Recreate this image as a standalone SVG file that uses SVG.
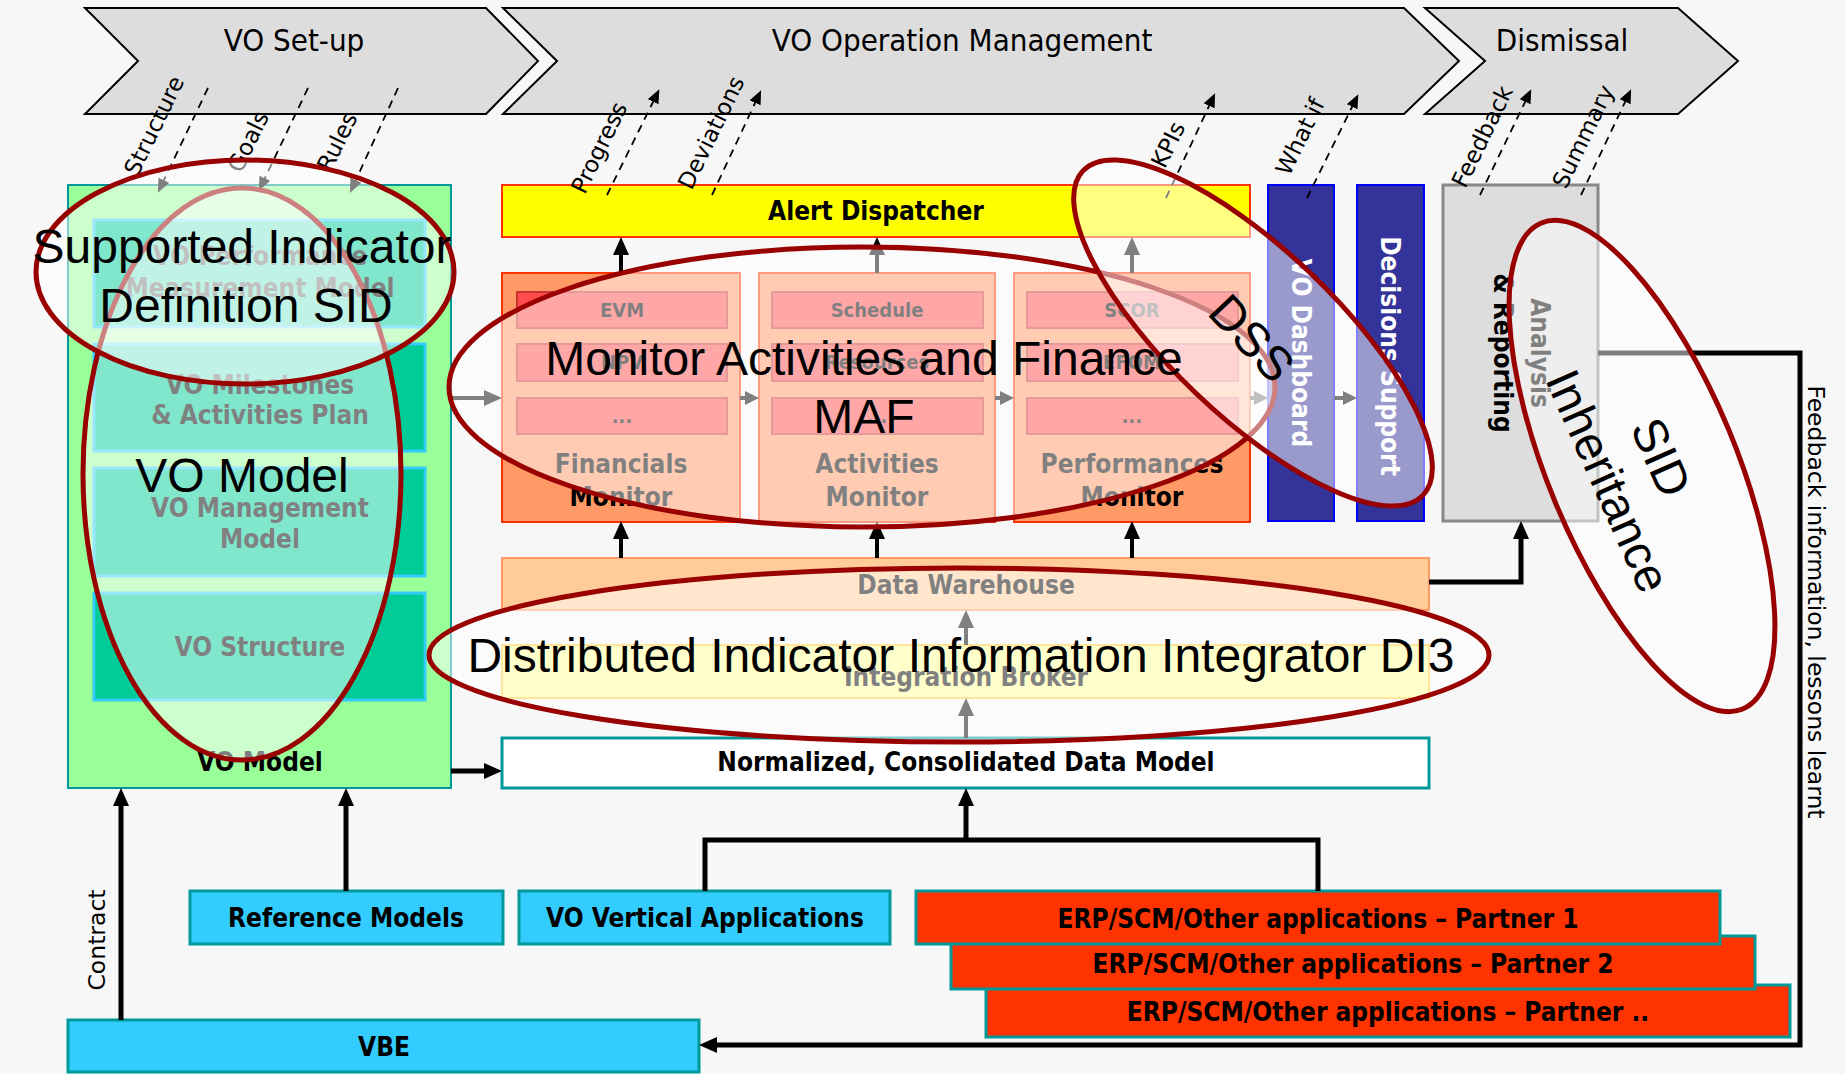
<svg xmlns="http://www.w3.org/2000/svg" width="1845" height="1074" viewBox="0 0 1845 1074">
  <defs>
    <style>
      .chev { fill: #dddddd; stroke: #000000; stroke-width: 2; }
      .ttl { font-family: "DejaVu Sans Condensed", "DejaVu Sans", sans-serif; font-stretch: condensed; font-size: 31px; fill: #000; text-anchor: middle; }
      .b { font-family: "DejaVu Sans Condensed", "DejaVu Sans", sans-serif; font-stretch: condensed; font-weight: bold; font-size: 26px; fill: #000; text-anchor: middle; }
      .sb { font-family: "DejaVu Sans Condensed", "DejaVu Sans", sans-serif; font-stretch: condensed; font-weight: bold; font-size: 20px; fill: #000; text-anchor: middle; }
      .w { fill: #ffffff; }
      .lbl { font-family: "DejaVu Sans", sans-serif; font-size: 23px; fill: #000; text-anchor: middle; }
      .lbl2 { font-family: "DejaVu Sans", sans-serif; font-size: 23.5px; fill: #000; text-anchor: middle; }
      .vm { fill: #99ff99; stroke: #009999; stroke-width: 2; }
      .inner { fill: #00cc99; stroke: #33ccff; stroke-width: 3; }
      .mon { fill: #ff9966; stroke: #ff3300; stroke-width: 2; }
      .sub { fill: #ff4d4d; stroke: #cc3333; stroke-width: 2; }
      .blue { fill: #333399; stroke: #0000ff; stroke-width: 2; }
      .cyan { fill: #33ccff; stroke: #009999; stroke-width: 3; }
      .erp { fill: #ff3300; stroke: #009999; stroke-width: 3; }
      .con { fill: none; stroke: #000; stroke-width: 5; }
      .con4 { fill: none; stroke: #000; stroke-width: 4; }
      .dash { fill: none; stroke: #000; stroke-width: 1.8; stroke-dasharray: 8 6; }
      .ov { fill: #ffffff; fill-opacity: 0.5; stroke: #990000; stroke-width: 5; }
      .ovt { font-family: "Liberation Sans", Arial, sans-serif; font-size: 48px; fill: #000; text-anchor: middle; }
    </style>
    <marker id="ah" viewBox="0 0 18 16" refX="2" refY="8" markerWidth="18" markerHeight="16" markerUnits="userSpaceOnUse" orient="auto">
      <path d="M0,0 L18,8 L0,16 z" fill="#000"/>
    </marker>
    <marker id="as" viewBox="0 0 14 14" refX="2" refY="7" markerWidth="14" markerHeight="14" markerUnits="userSpaceOnUse" orient="auto">
      <path d="M0,0 L14,7 L0,14 z" fill="#000"/>
    </marker>
    <marker id="dh" viewBox="0 0 14 12" refX="2" refY="6" markerWidth="14" markerHeight="12" markerUnits="userSpaceOnUse" orient="auto">
      <path d="M0,0 L14,6 L0,12 z" fill="#000"/>
    </marker>
  </defs>

  <rect x="0" y="0" width="1845" height="1074" fill="#f7f7f7"/>

  <!-- lifecycle phases -->
  <g id="phase-setup">
    <polygon class="chev" points="85,8 486,8 538,61 486,114 85,114 138,61"/>
    <text class="ttl" x="294" y="51">VO Set-up</text>
  </g>
  <g id="phase-operation">
    <polygon class="chev" points="503,8 1404,8 1459,61 1404,114 503,114 557,61"/>
    <text class="ttl" x="962" y="51">VO Operation Management</text>
  </g>
  <g id="phase-dismissal">
    <polygon class="chev" points="1425,8 1678,8 1738,61 1678,114 1425,114 1485,61"/>
    <text class="ttl" x="1562" y="51">Dismissal</text>
  </g>

  <!-- VO model stack -->
  <g id="vo-model">
    <rect class="vm" x="68" y="185" width="383" height="603"/>
    <rect class="inner" x="94" y="220" width="331" height="107"/>
    <text class="b" x="260" y="265">VO Performance</text>
    <text class="b" x="260" y="297">Measurement Model</text>
    <rect class="inner" x="94" y="344" width="331" height="107"/>
    <text class="b" x="260" y="394">VO Milestones</text>
    <text class="b" x="260" y="424">&amp; Activities Plan</text>
    <rect class="inner" x="94" y="468" width="331" height="108"/>
    <text class="b" x="260" y="517">VO Management</text>
    <text class="b" x="260" y="548">Model</text>
    <rect class="inner" x="94" y="593" width="331" height="107"/>
    <text class="b" x="260" y="656">VO Structure</text>
    <text class="b" x="260" y="771">VO Model</text>
  </g>

  <g id="alert-dispatcher">
    <rect x="502" y="185" width="748" height="52" fill="#ffff00" stroke="#ff3300" stroke-width="2"/>
    <text class="b" x="876" y="220">Alert Dispatcher</text>
  </g>

  <g id="financials-monitor">
    <rect class="mon" x="502" y="273" width="238" height="249"/>
    <rect class="sub" x="517" y="292" width="210" height="36"/>
    <text class="sb" x="622" y="317">EVM</text>
    <rect class="sub" x="517" y="344" width="210" height="37"/>
    <text class="sb" x="622" y="369">NPV</text>
    <rect class="sub" x="517" y="398" width="210" height="36"/>
    <text class="sb" x="622" y="423">...</text>
    <text class="b" x="621" y="473">Financials</text>
    <text class="b" x="621" y="506">Monitor</text>
  </g>
  <g id="activities-monitor">
    <rect class="mon" x="759" y="273" width="236" height="249"/>
    <rect class="sub" x="772" y="292" width="211" height="36"/>
    <text class="sb" x="877" y="317">Schedule</text>
    <rect class="sub" x="772" y="344" width="211" height="37"/>
    <text class="sb" x="877" y="369">Resources</text>
    <rect class="sub" x="772" y="398" width="211" height="36"/>
    <text class="sb" x="877" y="423">...</text>
    <text class="b" x="877" y="473">Activities</text>
    <text class="b" x="877" y="506">Monitor</text>
  </g>
  <g id="performances-monitor">
    <rect class="mon" x="1014" y="273" width="236" height="249"/>
    <rect class="sub" x="1027" y="292" width="211" height="36"/>
    <text class="sb" x="1132" y="317">SCOR</text>
    <rect class="sub" x="1027" y="344" width="211" height="37"/>
    <text class="sb" x="1132" y="369">EFQM</text>
    <rect class="sub" x="1027" y="398" width="211" height="36"/>
    <text class="sb" x="1132" y="423">...</text>
    <text class="b" x="1132" y="473">Performances</text>
    <text class="b" x="1132" y="506">Monitor</text>
  </g>

  <g id="vo-dashboard">
    <rect class="blue" x="1268" y="185" width="66" height="336"/>
    <text class="b w" transform="translate(1301,353) rotate(90)" x="0" y="9">VO Dashboard</text>
  </g>
  <g id="decisions-support">
    <rect class="blue" x="1357" y="185" width="67" height="336"/>
    <text class="b w" transform="translate(1390,356) rotate(90)" x="0" y="9">Decisions Support</text>
  </g>
  <g id="analysis-reporting">
    <rect x="1443" y="185" width="155" height="336" fill="#dddddd" stroke="#888888" stroke-width="3"/>
    <text class="b" transform="translate(1540,353) rotate(90)" x="0" y="9">Analysis</text>
    <text class="b" transform="translate(1503,353) rotate(90)" x="0" y="9">&amp; Reporting</text>
  </g>

  <g id="data-warehouse">
    <rect x="502" y="558" width="927" height="52" fill="#ffcc99" stroke="#ff9966" stroke-width="2"/>
    <text class="b" x="966" y="594">Data Warehouse</text>
  </g>
  <g id="integration-broker">
    <rect x="502" y="645" width="927" height="53" fill="#ffff99" stroke="#ffcc33" stroke-width="2"/>
    <text class="b" x="966" y="686">Integration Broker</text>
  </g>
  <g id="data-model">
    <rect x="502" y="738" width="927" height="50" fill="#ffffff" stroke="#009999" stroke-width="3"/>
    <text class="b" x="966" y="771">Normalized, Consolidated Data Model</text>
  </g>

  <g id="reference-models">
    <rect class="cyan" x="190" y="891" width="313" height="53"/>
    <text class="b" x="346" y="927">Reference Models</text>
  </g>
  <g id="vertical-applications">
    <rect class="cyan" x="519" y="891" width="371" height="53"/>
    <text class="b" x="705" y="927">VO Vertical Applications</text>
  </g>
  <g id="erp-partner-n">
    <rect class="erp" x="986" y="985" width="804" height="52"/>
    <text class="b" x="1388" y="1021">ERP/SCM/Other applications – Partner ..</text>
  </g>
  <g id="erp-partner-2">
    <rect class="erp" x="951" y="936" width="804" height="53"/>
    <text class="b" x="1353" y="973">ERP/SCM/Other applications – Partner 2</text>
  </g>
  <g id="erp-partner-1">
    <rect class="erp" x="916" y="891" width="804" height="53"/>
    <text class="b" x="1318" y="928">ERP/SCM/Other applications – Partner 1</text>
  </g>
  <g id="vbe">
    <rect class="cyan" x="68" y="1020" width="631" height="52"/>
    <text class="b" x="384" y="1056">VBE</text>
  </g>

  <!-- connectors -->
  <g id="connectors">
    <path class="con" d="M121,1020 V804" marker-end="url(#ah)"/>
    <path class="con" d="M346,891 V804" marker-end="url(#ah)"/>
    <path class="con" d="M451,771 H486" marker-end="url(#ah)"/>
    <path class="con" d="M705,891 V840 H1318 V891"/>
    <path class="con" d="M966,840 V804" marker-end="url(#ah)"/>
    <path class="con4" d="M966,738 V714" marker-end="url(#ah)"/>
    <path class="con4" d="M966,645 V626" marker-end="url(#ah)"/>
    <path class="con4" d="M621,558 V537" marker-end="url(#ah)"/>
    <path class="con4" d="M877,558 V537" marker-end="url(#ah)"/>
    <path class="con4" d="M1132,558 V537" marker-end="url(#ah)"/>
    <path class="con4" d="M621,273 V253" marker-end="url(#ah)"/>
    <path class="con4" d="M877,273 V253" marker-end="url(#ah)"/>
    <path class="con4" d="M1132,273 V253" marker-end="url(#ah)"/>
    <path class="con4" d="M451,398 H486" marker-end="url(#ah)"/>
    <path class="con4" d="M740,398 H747" marker-end="url(#as)"/>
    <path class="con4" d="M995,398 H1002" marker-end="url(#as)"/>
    <path class="con4" d="M1250,398 H1256" marker-end="url(#as)"/>
    <path class="con4" d="M1334,398 H1345" marker-end="url(#as)"/>
    <path class="con" d="M1429,582 H1521 V537" marker-end="url(#ah)"/>
    <path class="con" d="M1598,353 H1800 V1045 H715" marker-end="url(#ah)"/>
    <text class="lbl2" transform="translate(97,940) rotate(-90)" x="0" y="8">Contract</text>
    <text class="lbl2" transform="translate(1816,602) rotate(90)" x="0" y="8">Feedback information, lessons learnt</text>
  </g>

  <!-- information flows to and from the phases -->
  <g id="flows">
    <path class="dash" d="M208,88 L163,182" marker-end="url(#dh)"/>
    <path class="dash" d="M308,88 L264,180" marker-end="url(#dh)"/>
    <path class="dash" d="M398,88 L355,182" marker-end="url(#dh)"/>
    <path class="dash" d="M607,195 L654,100" marker-end="url(#dh)"/>
    <path class="dash" d="M712,195 L756,101" marker-end="url(#dh)"/>
    <path class="dash" d="M1166,198 L1210,104" marker-end="url(#dh)"/>
    <path class="dash" d="M1307,198 L1353,105" marker-end="url(#dh)"/>
    <path class="dash" d="M1480,195 L1526,100" marker-end="url(#dh)"/>
    <path class="dash" d="M1581,195 L1626,100" marker-end="url(#dh)"/>
    <text class="lbl" transform="translate(155,126) rotate(-64)" y="7">Structure</text>
    <text class="lbl" transform="translate(249,142) rotate(-64)" y="7">Goals</text>
    <text class="lbl" transform="translate(338,142) rotate(-64)" y="7">Rules</text>
    <text class="lbl" transform="translate(600,148) rotate(-64)" y="7">Progress</text>
    <text class="lbl" transform="translate(712,133) rotate(-64)" y="7">Deviations</text>
    <text class="lbl" transform="translate(1169,145) rotate(-64)" y="7">KPIs</text>
    <text class="lbl" transform="translate(1301,137) rotate(-64)" y="7">What if</text>
    <text class="lbl" transform="translate(1483,137) rotate(-64)" y="7">Feedback</text>
    <text class="lbl" transform="translate(1584,137) rotate(-64)" y="7">Summary</text>
  </g>

  <!-- highlighted subsystems -->
  <g id="highlights">
    <ellipse class="ov" cx="242" cy="474" rx="159" ry="286"/>
    <ellipse class="ov" cx="245" cy="272" rx="209" ry="112"/>
    <ellipse class="ov" cx="862" cy="387" rx="413" ry="140"/>
    <ellipse class="ov" transform="translate(1253,333) rotate(43.7)" cx="0" cy="0" rx="235" ry="83"/>
    <ellipse class="ov" cx="959" cy="655" rx="530" ry="87"/>
    <ellipse class="ov" transform="translate(1642,466) rotate(67.5)" cx="0" cy="0" rx="263" ry="94"/>
  </g>
  <g id="highlight-labels">
    <text class="ovt" x="242" y="263">Supported Indicator</text>
    <text class="ovt" x="246" y="322">Definition SID</text>
    <text class="ovt" x="242" y="492">VO Model</text>
    <text class="ovt" x="864" y="375">Monitor Activities and Finance</text>
    <text class="ovt" x="864" y="433">MAF</text>
    <text class="ovt" transform="translate(1252,338) rotate(47)" x="0" y="17">DSS</text>
    <text class="ovt" x="961" y="672">Distributed Indicator Information Integrator DI3</text>
    <text class="ovt" transform="translate(1635,469) rotate(66)" x="0" y="-12">SID</text>
    <text class="ovt" transform="translate(1635,469) rotate(66)" x="0" y="46">Inheritance</text>
  </g>
</svg>
